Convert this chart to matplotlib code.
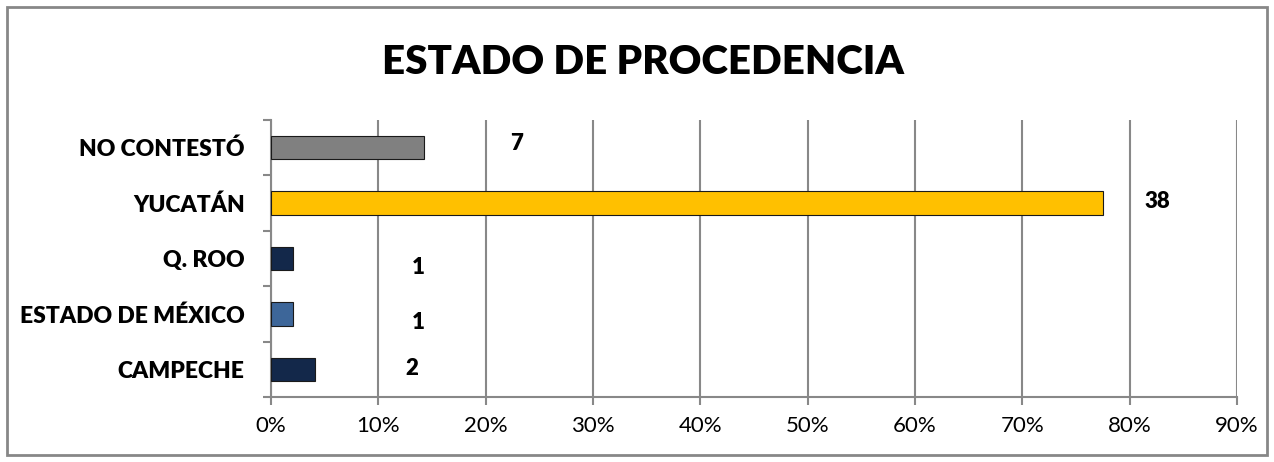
import matplotlib.pyplot as plt
from matplotlib.patches import Rectangle

categories = ['CAMPECHE', 'ESTADO DE MÉXICO', 'Q. ROO', 'YUCATÁN', 'NO CONTESTÓ']
counts = [2, 1, 1, 38, 7]
colors = ['#13284a', '#3d6699', '#13284a', '#ffc000', '#808080']
# label offsets (x in percent points, y in category units) as placed in the original
label_dx = [9.0, 11.7, 11.7, 5.0, 8.6]
label_dy = [0.02, -0.15, -0.17, 0.02, 0.08]

total = sum(counts)
pcts = [c / total * 100 for c in counts]

plt.rcParams['font.family'] = ['Lato', 'DejaVu Sans']

fig = plt.figure(figsize=(12.74, 4.62), dpi=100)
fig.patches.append(Rectangle((7 / 1274, 7 / 462), 1260 / 1274, 448 / 462,
                             transform=fig.transFigure, fill=False,
                             edgecolor='#878787', linewidth=2))

ax = fig.add_axes([271 / 1274, (462 - 397) / 462, (1237 - 271) / 1274, (397 - 120) / 462])
y = range(len(categories))
ax.barh(y, pcts, height=0.42, color=colors, edgecolor='#1a1a1a', linewidth=0.8, zorder=3)

for i, (p, c) in enumerate(zip(pcts, counts)):
    ax.text(p + label_dx[i], i + label_dy[i], str(c), ha='center', va='center',
            fontsize=16, fontweight='heavy', color='black')

ax.set_xlim(0, 90)
ax.set_ylim(-0.5, len(categories) - 0.5)
ax.set_xticks(range(0, 91, 10))
ax.set_xticklabels([f'{v}%' for v in range(0, 91, 10)], fontsize=16)
ax.set_yticks(list(y))
ax.set_yticklabels(categories, fontsize=16.5, fontweight='heavy')
ax.set_yticks([i - 0.5 for i in range(len(categories) + 1)], minor=True)
ax.tick_params(axis='y', which='major', length=0, pad=19)
ax.tick_params(axis='y', which='minor', length=6, color='#888888', width=1.5)
ax.tick_params(axis='x', length=6, color='#888888', width=1.5, pad=8)
ax.grid(axis='x', color='#888888', linewidth=1.5, zorder=0)

for s in ['top', 'right']:
    ax.spines[s].set_visible(False)
for s in ['left', 'bottom']:
    ax.spines[s].set_color('#888888')
    ax.spines[s].set_linewidth(1.5)

fig.text(643 / 1274, 1 - 62 / 462, 'ESTADO DE PROCEDENCIA', ha='center', va='center',
         fontsize=29, fontweight='heavy')

fig.savefig('out.png', dpi=100)
